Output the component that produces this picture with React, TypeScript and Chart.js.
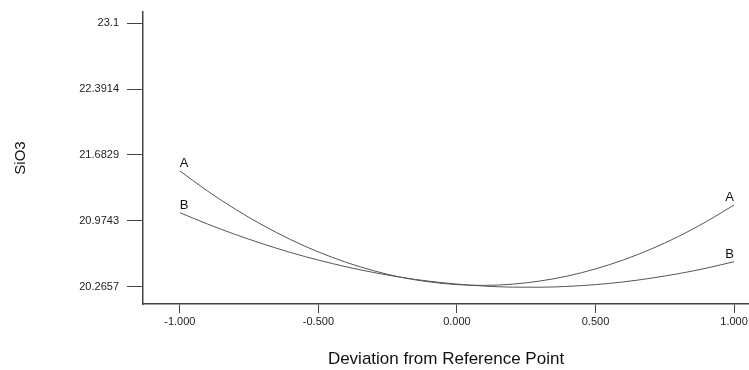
import React, { useEffect, useRef } from "react";
import { Chart, registerables } from "chart.js";

Chart.register(...registerables);

const xValues = [-1, -0.9, -0.8, -0.7, -0.6, -0.5, -0.4, -0.3, -0.2, -0.1, 0, 0.1, 0.2, 0.3, 0.4, 0.5, 0.6, 0.7, 0.8, 0.9, 1];
const seriesA = [21.511, 21.295, 21.1, 20.926, 20.772, 20.64, 20.528, 20.437, 20.366, 20.317, 20.288, 20.28, 20.293, 20.327, 20.381, 20.457, 20.553, 20.67, 20.807, 20.966, 21.145];
const seriesB = [21.062, 20.94, 20.828, 20.726, 20.633, 20.552, 20.48, 20.418, 20.366, 20.325, 20.294, 20.272, 20.261, 20.26, 20.269, 20.288, 20.317, 20.357, 20.406, 20.465, 20.535];
const seriesNames = ["A", "B"];
const yTicks = [20.2657, 20.9743, 21.6829, 22.3914, 23.1];
const yTickLabels = ["20.2657", "20.9743", "21.6829", "22.3914", "23.1"];
const xTicks = [-1, -0.5, 0, 0.5, 1];
const xTitle = "Deviation from Reference Point";
const yTitle = "SiO3";

const FONT = "'Liberation Sans', Arial, sans-serif";

const endLabels = {
  id: "endLabels",
  afterDatasetsDraw(chart: any) {
    const ctx = chart.ctx;
    ctx.save();
    ctx.font = `13px ${FONT}`;
    ctx.fillStyle = "#111";
    ctx.textBaseline = "alphabetic";
    chart.data.datasets.forEach((ds: any, i: number) => {
      const meta = chart.getDatasetMeta(i);
      const pts = meta.data;
      if (!pts.length) return;
      const first = pts[0];
      const last = pts[pts.length - 1];
      ctx.textAlign = "left";
      ctx.fillText(ds.label, first.x, first.y - 4);
      ctx.textAlign = "right";
      ctx.fillText(ds.label, last.x, last.y - 4);
    });
    ctx.restore();
  },
};

export default function App() {
  const ref = useRef<HTMLCanvasElement | null>(null);
  useEffect(() => {
    document.body.style.margin = "0";
    const canvas = ref.current;
    if (!canvas) return;
    const mk = (vals: number[]) => xValues.map((x, i) => ({ x, y: vals[i] }));
    const chart = new Chart(canvas, {
      type: "line",
      data: {
        datasets: [
          { label: seriesNames[0], data: mk(seriesA), borderColor: "#555", borderWidth: 1, pointRadius: 0, tension: 0.4, cubicInterpolationMode: "monotone", fill: false },
          { label: seriesNames[1], data: mk(seriesB), borderColor: "#555", borderWidth: 1, pointRadius: 0, tension: 0.4, cubicInterpolationMode: "monotone", fill: false },
        ],
      },
      options: {
        animation: false,
        responsive: false,
        layout: { padding: { top: 12, right: 0, left: 0, bottom: 0 } },
        plugins: { legend: { display: false }, tooltip: { enabled: false } },
        scales: {
          x: {
            type: "linear",
            min: -1.133,
            max: 1.054,
            afterBuildTicks: (s: any) => { s.ticks = xTicks.map((v) => ({ value: v })); },
            afterFit: (s: any) => { s.height = 66; s.paddingLeft = 0; s.paddingRight = 0; },
            border: { display: true, color: "#444", width: 1.5 },
            grid: { drawOnChartArea: false, drawTicks: true, tickLength: 9, color: "#444" },
            ticks: {
              color: "#222",
              font: { family: FONT, size: 11 },
              padding: 2,
              maxRotation: 0,
              callback: (v: any) => Number(v).toFixed(3),
            },
            title: { display: true, text: xTitle, color: "#111", font: { family: FONT, size: 17 }, padding: { top: 14, bottom: 0 } },
          },
          y: {
            type: "linear",
            min: 20.0795,
            max: 23.2216,
            afterBuildTicks: (s: any) => { s.ticks = yTicks.map((v) => ({ value: v })); },
            afterFit: (s: any) => { s.width = 143; s.paddingTop = 0; s.paddingBottom = 0; },
            border: { display: true, color: "#444", width: 1.5 },
            grid: { drawOnChartArea: false, drawTicks: true, tickLength: 16, color: "#444" },
            ticks: {
              color: "#222",
              font: { family: FONT, size: 11 },
              padding: 8,
              callback: (v: any) => {
                const idx = yTicks.findIndex((t) => Math.abs(t - Number(v)) < 1e-6);
                return idx >= 0 ? yTickLabels[idx] : "";
              },
            },
            title: { display: true, text: yTitle, color: "#111", font: { family: FONT, size: 15 }, padding: { top: 12, bottom: 0 } },
          },
        },
      },
      plugins: [endLabels],
    } as any);
    return () => chart.destroy();
  }, []);
  return <canvas ref={ref} width={749} height={370} style={{ display: "block", width: 749, height: 370 }} />;
}
